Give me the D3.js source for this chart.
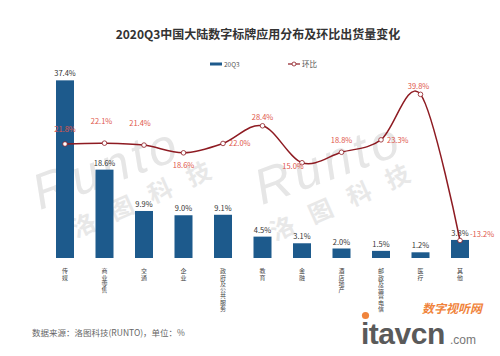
<!DOCTYPE html>
<html><head><meta charset="utf-8">
<script src="https://cdn.jsdelivr.net/npm/d3@7"></script>
<style>
html,body{margin:0;padding:0;background:#fff;}
svg{display:block;font-family:"Noto Sans CJK SC","Noto Sans",sans-serif;}
</style></head>
<body><svg id="c" width="500" height="356"></svg>
<script>
const categories = ["传媒","商业零售","交通","企业","政府及公共服务","教育","金融","酒店地产","邮政及运营电信","医疗","其他"];
const share = [37.4, 18.6, 9.9, 9.0, 9.1, 4.5, 3.1, 2.0, 1.5, 1.2, 3.8];
const qoq = [21.8, 22.1, 21.4, 18.6, 22.0, 28.4, 15.0, 18.8, 23.3, 39.8, -13.2];
const seriesNames = ["20Q3", "环比"];
const title = "2020Q3中国大陆数字标牌应用分布及环比出货量变化";
const source = "数据来源：洛图科技(RUNTO)，单位：%";

// label placement style per point: [dx, dy, anchor]
const lblOff = [[0,-12,"middle"],[-3,-19,"middle"],[-4,-19,"middle"],[0,15,"middle"],[6,3,"start"],[0,-6,"middle"],[-9,6,"middle"],[0,-9,"middle"],[6,3,"start"],[-2,-5,"middle"],[10,-3,"start"]];

const svg = d3.select("#c");
const BAR = "#1d5a8c", LINE = "#8e1b22", LBL = "#e0564a";

// watermark
function wm(x, y, sx, sy) {
  svg.append("text").attr("transform", `translate(${x},${y}) rotate(-20)`)
    .attr("font-family","Liberation Sans, Arial, sans-serif").attr("font-style","italic")
    .attr("font-size",50).attr("letter-spacing",4).attr("fill","#e6e6e6").text("Runto");
  svg.append("text").attr("transform", `translate(${sx},${sy}) rotate(-24)`)
    .attr("font-size",24).attr("font-weight","bold").attr("letter-spacing",18).attr("fill","#e8e8e8").text("洛图科技");
}
wm(40, 210, 76, 238);
wm(262, 205, 275, 241);

// title
svg.append("text").attr("x",258).attr("y",39).attr("text-anchor","middle")
  .attr("font-size",12).attr("font-weight","bold").attr("fill","#333").text(title);

const x = d3.scalePoint().domain(categories).range([45.25, 479.75]).padding(0.5);
const bw = 18;
const yB = d3.scaleLinear().domain([0, 40]).range([258, 68]);
const yL = d3.scaleLinear().domain([0, 40]).range([204.1, 93.8]);

// bars
svg.append("g").selectAll("rect").data(categories).join("rect")
  .attr("x", d => x(d) - bw/2).attr("width", bw)
  .attr("y", (d,i) => yB(share[i])).attr("height", (d,i) => yB(0) - yB(share[i]))
  .attr("fill", BAR);

// bar labels
svg.append("g").selectAll("text").data(categories).join("text")
  .attr("x", d => x(d)).attr("y", (d,i) => yB(share[i]) - 4)
  .attr("text-anchor","middle").attr("font-size",7.5).attr("fill","#333")
  .text((d,i) => share[i].toFixed(1) + "%");

// category labels (vertical)
svg.append("g").selectAll("text").data(categories).join("text")
  .attr("x", d => x(d)).attr("y", 268)
  .attr("writing-mode","vertical-rl")
  .attr("font-size",6).attr("letter-spacing",0.3).attr("fill","#444")
  .text(d => d);

// line
const line = d3.line().x((d,i) => x(categories[i])).y(d => yL(d)).curve(d3.curveCardinal.tension(0));
svg.append("path").datum(qoq).attr("d", line).attr("fill","none").attr("stroke",LINE).attr("stroke-width",1.5);
svg.append("g").selectAll("circle").data(qoq).join("circle")
  .attr("cx", (d,i) => x(categories[i])).attr("cy", d => yL(d)).attr("r",2.3)
  .attr("fill","#fff").attr("stroke",LINE).attr("stroke-width",0.8);
svg.append("g").selectAll("text").data(qoq).join("text")
  .attr("x", (d,i) => x(categories[i]) + lblOff[i][0]).attr("y", (d,i) => yL(d) + lblOff[i][1])
  .attr("text-anchor", (d,i) => lblOff[i][2]).attr("font-size",7.5).attr("fill",LBL)
  .text(d => d.toFixed(1) + "%");

// legend
const lg = svg.append("g");
lg.append("rect").attr("x",210).attr("y",62.5).attr("width",12).attr("height",3).attr("fill",BAR);
lg.append("text").attr("x",224).attr("y",66.5).attr("font-size",6.5).attr("fill","#555").text(seriesNames[0]);
lg.append("line").attr("x1",288).attr("x2",300).attr("y1",64).attr("y2",64).attr("stroke",LINE).attr("stroke-width",1.2);
lg.append("circle").attr("cx",294).attr("cy",64).attr("r",2).attr("fill","#fff").attr("stroke",LINE).attr("stroke-width",0.8);
lg.append("text").attr("x",302).attr("y",67).attr("font-size",7.5).attr("fill","#555").text(seriesNames[1]);

// source
svg.append("text").attr("x",32).attr("y",336).attr("font-size",8.5).attr("fill","#666").text(source);

// site logo
svg.append("text").attr("x",482).attr("y",313).attr("text-anchor","end").attr("font-size",12)
  .attr("font-weight","bold").attr("font-style","italic").attr("fill","#f0843c").text("数字视听网");
svg.append("text").attr("x",361).attr("y",344).attr("font-family","Liberation Sans, Arial, sans-serif")
  .attr("font-size",30).attr("font-weight","bold").attr("fill","#5a5a5a").attr("letter-spacing",-0.5).text("itavcn");
svg.append("circle").attr("cx",365.5).attr("cy",315.5).attr("r",3.6).attr("fill","#f0843c");
svg.append("text").attr("x",450).attr("y",344).attr("font-family","Liberation Sans, Arial, sans-serif")
  .attr("font-size",12).attr("fill","#777").text(".com");
</script></body></html>
